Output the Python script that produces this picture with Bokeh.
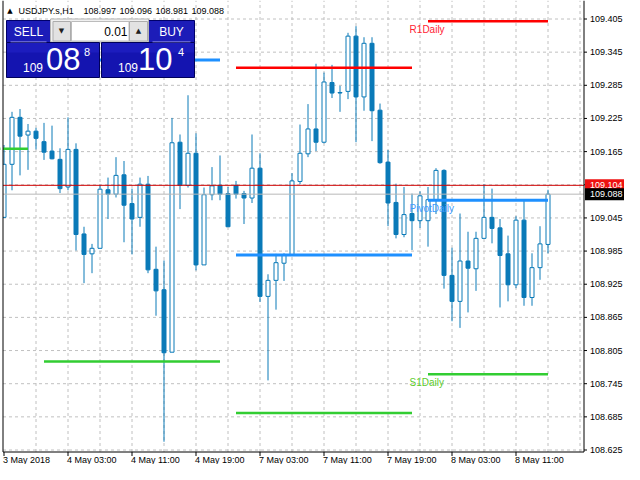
from bokeh.plotting import figure
from bokeh.models import Range1d, Label, BoxAnnotation, ColumnDataSource
from bokeh.core.properties import value
from bokeh.embed import file_html
from bokeh.resources import INLINE

# ---------------- data (USDJPY.s, H1) ----------------
symbol = "USDJPY.s,H1"
bar_index = list(range(69))
opens = [109.046, 109.142, 109.227, 109.195, 109.202, 109.183, 109.166, 109.151, 109.101, 109.169,
         109.016, 108.980, 108.990, 109.096, 109.088, 109.123, 109.071, 109.046, 109.106, 108.952,
         108.915, 108.802, 109.182, 109.104, 109.162, 108.960, 109.087, 109.104, 109.089, 109.104,
         109.089, 109.081, 109.135, 108.903, 108.932, 108.963, 108.978, 109.111, 109.161, 109.206,
         109.182, 109.290, 109.272, 109.274, 109.374, 109.264, 109.361, 109.240, 109.146, 109.073,
         109.015, 109.053, 109.040, 109.040, 109.077, 109.131, 108.941, 108.894, 108.967, 108.953,
         109.008, 109.046, 109.027, 108.980, 108.924, 109.041, 108.901, 108.955, 108.997]
highs = [109.177, 109.237, 109.242, 109.215, 109.208, 109.217, 109.212, 109.171, 109.227, 109.180,
         109.029, 108.998, 109.105, 109.118, 109.155, 109.148, 109.098, 109.118, 109.121, 108.993,
         108.968, 109.226, 109.196, 109.267, 109.198, 109.100, 109.137, 109.158, 109.101, 109.112,
         109.094, 109.196, 109.162, 108.943, 108.980, 108.981, 109.126, 109.214, 109.251, 109.324,
         109.308, 109.322, 109.284, 109.380, 109.392, 109.372, 109.372, 109.252, 109.168, 109.107,
         109.101, 109.089, 109.093, 109.101, 109.135, 109.133, 108.991, 109.053, 109.020, 109.020,
         109.106, 109.098, 109.043, 109.013, 109.048, 109.078, 108.981, 109.030, 109.096]
lows = [109.045, 109.095, 109.122, 109.132, 109.169, 109.150, 109.151, 109.090, 109.095, 108.986,
        108.927, 108.945, 108.990, 109.043, 109.082, 109.001, 108.979, 109.029, 108.945, 108.868,
        108.640, 108.802, 109.061, 109.100, 108.950, 108.960, 109.077, 109.077, 109.029, 109.080,
        109.034, 109.072, 108.893, 108.751, 108.879, 108.931, 108.978, 109.106, 109.155, 109.166,
        109.180, 109.262, 109.237, 109.260, 109.182, 109.239, 109.184, 109.143, 109.030, 109.008,
        109.010, 108.987, 109.027, 108.993, 109.052, 108.917, 108.858, 108.846, 108.874, 108.913,
        109.008, 108.999, 108.883, 108.894, 108.918, 108.886, 108.886, 108.933, 108.981]
closes = [109.142, 109.227, 109.193, 109.202, 109.189, 109.164, 109.152, 109.098, 109.169, 109.015,
          108.979, 108.990, 109.097, 109.088, 109.122, 109.068, 109.043, 109.106, 108.951, 108.913,
          108.801, 109.181, 109.104, 109.162, 108.960, 109.087, 109.103, 109.088, 109.029, 109.088,
          109.081, 109.135, 108.903, 108.932, 108.964, 108.977, 109.112, 109.162, 109.206, 109.182,
          109.291, 109.271, 109.271, 109.374, 109.264, 109.361, 109.239, 109.145, 109.072, 109.015,
          109.051, 109.040, 109.085, 109.078, 109.131, 108.941, 108.894, 108.967, 108.954, 109.008,
          109.046, 109.026, 108.977, 108.924, 109.041, 108.901, 108.955, 108.998, 109.088]

date_tick_bars = [0, 8, 16, 24, 32, 40, 48, 56, 64]
date_tick_labels = ["3 May 2018", "4 May 03:00", "4 May 11:00", "4 May 19:00", "7 May 03:00",
                    "7 May 11:00", "7 May 19:00", "8 May 03:00", "8 May 11:00"]
price_ticks = [108.625, 108.685, 108.745, 108.805, 108.865, 108.925, 108.985,
               109.045, 109.105, 109.165, 109.225, 109.285, 109.345, 109.405]
price_tick_labels = ["%.3f" % t for t in price_ticks]

# daily pivot levels (first bar, last bar of each day)
NaN = float("nan")
day_first = [-1, 5, 29, 53]
day_last = [3, 27, 51, 68]
r1_daily = [NaN, NaN, 109.317, 109.401]
pivot_daily = [NaN, 109.331, 108.978, 109.077]
s1_daily = [109.170, 108.785, 108.692, 108.762]

ask_price = 109.104
bid_price = 109.088
ohlc_header = ["108.997", "109.096", "108.981", "109.088"]
lot_text = "0.01"
sell_quote = ("109", "08", "8")
buy_quote = ("109", "10", "4")

# ---------------- layout (canvas pixels) ----------------
W, H = 624, 464
PXX = 8.0
TOP_TICK_PX, BOT_TICK_PX = 18.5, 449.5
PXY = (BOT_TICK_PX - TOP_TICK_PX) / (price_ticks[-1] - price_ticks[0])
x0 = -3.5 / PXX
x1 = x0 + W / PXX
y1 = price_ticks[-1] + TOP_TICK_PX / PXY
y0 = y1 - H / PXY

def DX(cx):
    return x0 + cx / PXX
def DY(cy):
    return y1 - cy / PXY

AXIS_X = DX(583.5)
BORDER_Y = DY(451.5)
LEFT_X = DX(2.5)

BLUE = "#0a7ab8"
FONT = "Liberation Sans"

p = figure(width=W, height=H, x_range=Range1d(x0, x1), y_range=Range1d(y0, y1),
           x_axis_location=None, y_axis_location=None, output_backend="svg",
           toolbar_location=None, min_border=0)
p.grid.visible = False
p.background_fill_color = "white"
p.border_fill_color = "white"
p.outline_line_color = None

# grid (dashed)
vg = [b for b in range(4, 80, 4) if b < AXIS_X]
p.segment(x0=vg, y0=[BORDER_Y] * len(vg), x1=vg, y1=[y1] * len(vg),
          line_color="#c0c0c0", line_dash="3 3", line_width=1)
p.segment(x0=[LEFT_X] * len(price_ticks), y0=price_ticks, x1=[AXIS_X] * len(price_ticks),
          y1=price_ticks, line_color="#c0c0c0", line_dash="3 3", line_width=1)

# candles
tops = [max(o, c) for o, c in zip(opens, closes)]
bots = [min(o, c) for o, c in zip(opens, closes)]
fills = ["white" if c >= o else BLUE for o, c in zip(opens, closes)]
src = ColumnDataSource(dict(x=bar_index, h=highs, l=lows, top=tops, bottom=bots, fill=fills))
p.segment(x0="x", y0="l", x1="x", y1="h", source=src, line_color=BLUE, line_width=1)
p.vbar(x="x", width=0.5, top="top", bottom="bottom", fill_color="fill",
       line_color=BLUE, line_width=1, source=src)

# pivot lines
p.segment(x0=day_first, y0=s1_daily, x1=day_last, y1=s1_daily, line_color="#32cd32", line_width=2.5)
p.segment(x0=day_first, y0=pivot_daily, x1=day_last, y1=pivot_daily, line_color="#1e90ff", line_width=3)
p.segment(x0=day_first, y0=r1_daily, x1=day_last, y1=r1_daily, line_color="#ff0000", line_width=2.5)

# ask / bid lines
p.segment(x0=[LEFT_X], y0=[ask_price], x1=[AXIS_X], y1=[ask_price], line_color="#d00000", line_width=1)
p.segment(x0=[LEFT_X], y0=[bid_price], x1=[AXIS_X], y1=[bid_price], line_color="#b8b8b8", line_width=1)

# mask left of the chart border, then frame lines
p.quad(left=[x0], right=[LEFT_X], top=[y1], bottom=[y0], fill_color="white", line_color=None)
p.segment(x0=[LEFT_X, LEFT_X, AXIS_X], y0=[BORDER_Y, BORDER_Y, BORDER_Y],
          x1=[LEFT_X, AXIS_X, AXIS_X], y1=[y1, BORDER_Y, y1], line_color="black", line_width=1)

# time axis: ticks + labels
p.segment(x0=date_tick_bars, y0=[BORDER_Y] * len(date_tick_bars), x1=date_tick_bars,
          y1=[BORDER_Y - 4 / PXY] * len(date_tick_bars), line_color="black", line_width=1)
p.text(x=[b - 1 / PXX for b in date_tick_bars], y=[DY(459)] * len(date_tick_bars), text=date_tick_labels,
       text_font=value(FONT), text_font_size="9px", text_color="black",
       text_align="left", text_baseline="middle")

# price axis: ticks + labels
p.segment(x0=[AXIS_X] * len(price_ticks), y0=price_ticks, x1=[AXIS_X + 3 / PXX] * len(price_ticks),
          y1=price_ticks, line_color="black", line_width=1)
p.text(x=[AXIS_X + 6 / PXX] * len(price_ticks), y=price_ticks, text=price_tick_labels,
       text_font=value(FONT), text_font_size="9px", text_color="black",
       text_align="left", text_baseline="middle")

# ask / bid price boxes
for price, col in ((ask_price, "#ee1111"), (bid_price, "black")):
    p.quad(left=[AXIS_X + 1 / PXX], right=[x1], top=[price + 6 / PXY], bottom=[price - 6 / PXY],
           fill_color=col, line_color=None)
    p.text(x=[AXIS_X + 6 / PXX], y=[price], text=["%.3f" % price], text_font=value(FONT),
           text_font_size="9px", text_color="white", text_align="left", text_baseline="middle")

# pivot labels
lx = day_first[-1] - 2.3
for txt, lvl, col in (("R1Daily", r1_daily[-1], "#ff2233"),
                      ("PivotDaily", pivot_daily[-1], "#3d9bff"),
                      ("S1Daily", s1_daily[-1], "#5ccc2a")):
    p.add_layout(Label(x=lx, y=lvl - 8 / PXY, text=txt, text_color=col, text_font=FONT,
                       text_font_size="10px", text_align="left", text_baseline="middle"))

# ---------------- chrome: header and one-click panel ----------------
def box(l, t, r, b, fill, line=None):
    p.add_layout(BoxAnnotation(left=DX(l), right=DX(r), top=DY(t), bottom=DY(b),
                               fill_color=fill, fill_alpha=1.0,
                               line_color=line, line_alpha=1.0 if line else 0, line_width=1))

def lab(rx, ry, text, size, color="white", align="left", font=FONT):
    p.add_layout(Label(x=DX(rx), y=DY(ry), text=text, text_font=font, text_font_size=size,
                       text_color=color, text_align=align, text_baseline="middle"))

lab(9.5, 10.5, "\u25B2", "7px", color="black", align="center", font="DejaVu Sans")
for rx, t in zip((18, 83, 119, 155, 191), [symbol] + ohlc_header):
    lab(rx, 10, t, "9px", color="black")

box(6, 20, 50, 42, "#1c1cb8", "#00006a")
box(148, 20, 194, 42, "#1c1cb8", "#00006a")
box(50, 18.5, 148, 41.5, "#f0f0f0", "#b4b4b4")
box(52.5, 21, 70, 40.5, "#e2e2e2", "#acacac")
box(71, 21, 128.5, 40.5, "white", "#bcbcbc")
box(129, 21, 147, 40.5, "#e2e2e2", "#acacac")
box(6, 42, 99, 77, "#1414b0", "#00005a")
box(101, 42, 194, 77, "#1414b0", "#00005a")
box(6.5, 42.5, 98.5, 52, "#1c1cbe")
box(101.5, 42.5, 193.5, 52, "#1c1cbe")
box(10, 41, 46, 41.8, "#aaaaee")
box(152, 41, 190, 41.8, "#aaaaee")

lab(28, 31, "SELL", "12px", align="center")
lab(171, 31, "BUY", "12px", align="center")
lab(127, 31, lot_text, "12px", color="black", align="right")
lab(61, 30.5, "\u25BC", "7px", color="#202020", align="center", font="DejaVu Sans")
lab(138, 30.5, "\u25B2", "7px", color="#202020", align="center", font="DejaVu Sans")
lab(22.5, 66.5, sell_quote[0], "12px")
lab(45.5, 58.5, sell_quote[1], "31px")
lab(83.5, 51, sell_quote[2], "11px")
lab(117.5, 66.5, buy_quote[0], "12px")
lab(137.5, 58.5, buy_quote[1], "31px")
lab(177.5, 51, buy_quote[2], "11px")

open("out.html", "w").write(file_html(p, INLINE))
